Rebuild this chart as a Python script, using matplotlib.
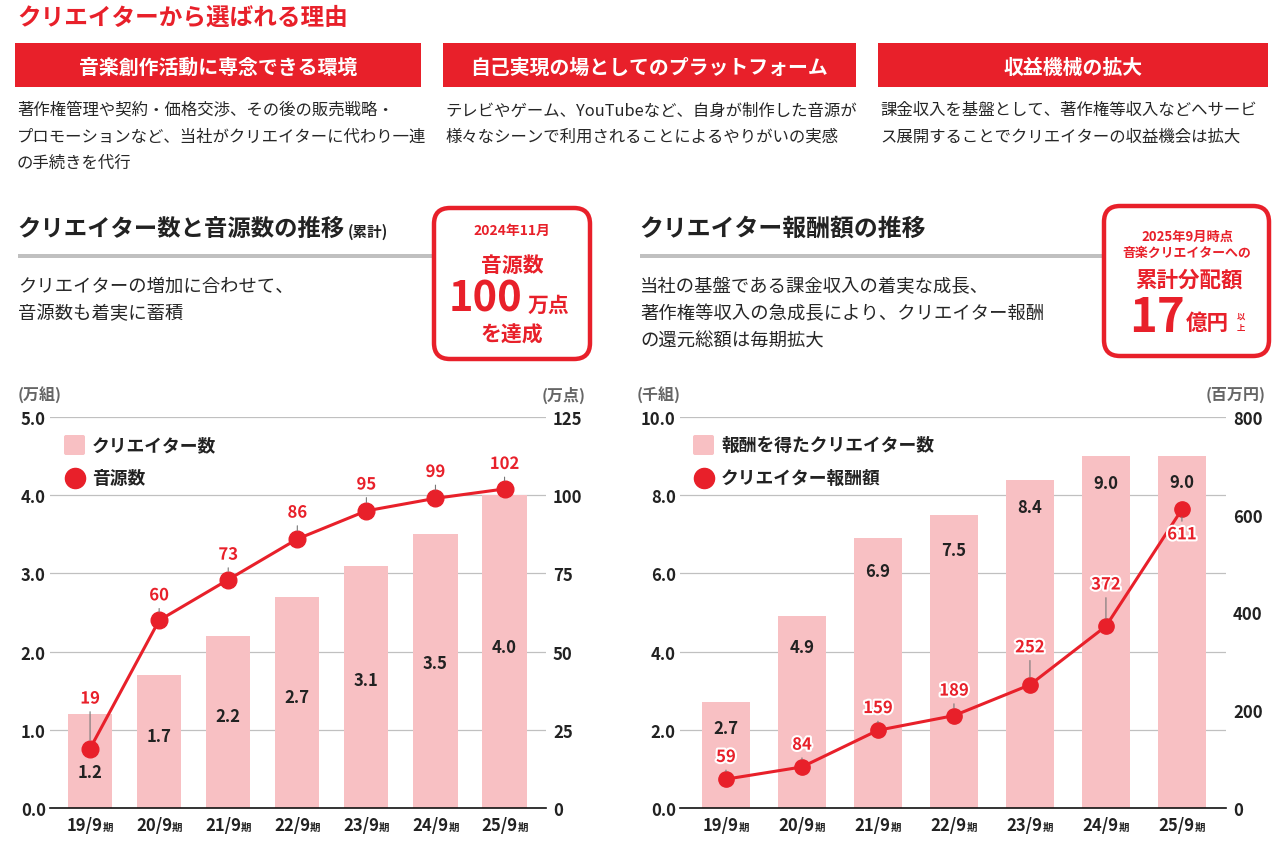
import matplotlib
matplotlib.use("Agg")
import matplotlib.pyplot as plt
import matplotlib.patheffects as pe
from matplotlib.patches import Rectangle, FancyBboxPatch
from matplotlib.offsetbox import TextArea, HPacker, AnnotationBbox

plt.rcParams['font.family'] = ['Noto Sans CJK JP', 'DejaVu Sans']

# ---------------- data ----------------
periods = ["19/9", "20/9", "21/9", "22/9", "23/9", "24/9", "25/9"]
period_suffix = "期"

creators_10k = [1.2, 1.7, 2.2, 2.7, 3.1, 3.5, 4.0]          # 万組
tracks_10k = [19, 60, 73, 86, 95, 99, 102]                   # 万点

paid_creators_1k = [2.7, 4.9, 6.9, 7.5, 8.4, 9.0, 9.0]       # 千組
payout_million = [59, 84, 159, 189, 252, 372, 611]           # 百万円

left_ticks = [0.0, 1.0, 2.0, 3.0, 4.0, 5.0]
left_ticks_r = [0, 25, 50, 75, 100, 125]
right_ticks = [0.0, 2.0, 4.0, 6.0, 8.0, 10.0]
right_ticks_r = [0, 200, 400, 600, 800]

reasons_head = ["音楽創作活動に専念できる環境", "自己実現の場としてのプラットフォーム", "収益機械の拡大"]
reasons_body = [
    ["著作権管理や契約・価格交渉、その後の販売戦略・",
     "プロモーションなど、当社がクリエイターに代わり一連",
     "の手続きを代行"],
    ["テレビやゲーム、YouTubeなど、自身が制作した音源が",
     "様々なシーンで利用されることによるやりがいの実感"],
    ["課金収入を基盤として、著作権等収入などへサービ",
     "ス展開することでクリエイターの収益機会は拡大"],
]

# ---------------- style ----------------
RED = "#E8202A"
PINK = "#F8C0C3"
DARK = "#222222"
TXT = "#262626"
GRID = "#C0C0C0"
UNIT = "#666666"

W, H = 1276, 845
fig = plt.figure(figsize=(W / 100, H / 100), dpi=100)
fig.patch.set_facecolor("white")

bg = fig.add_axes([0, 0, 1, 1], zorder=0)
bg.set_xlim(0, W)
bg.set_ylim(H, 0)
bg.axis("off")

# ---------------- header section ----------------
bg.text(17, 18, "クリエイターから選ばれる理由", color=RED, fontsize=17,
        fontweight="bold", va="center", ha="left")

boxes = [(15, 406), (443, 413), (878, 390)]
for (x0, w), head, body in zip(boxes, reasons_head, reasons_body):
    bg.add_patch(Rectangle((x0, 44), w, 44, facecolor=RED, edgecolor="none"))
    bg.text(x0 + w / 2, 67, head, color="white", fontsize=14.3, fontweight="bold",
            ha="center", va="center")
    for k, line in enumerate(body):
        bg.text(x0 + 2, 111 + 26 * k, line, color=TXT, fontsize=11.8,
                ha="left", va="center")

# ---------------- section titles ----------------
bg.text(17, 229, "クリエイター数と音源数の推移", color=DARK, fontsize=16.8,
        fontweight="bold", ha="left", va="center")
bg.text(348, 232, "(累計)", color=DARK, fontsize=10.5, fontweight="bold",
        ha="left", va="center")
bg.add_patch(Rectangle((18, 255), 416, 4, facecolor=GRID, edgecolor="none"))
bg.text(18, 287, "クリエイターの増加に合わせて、", color=TXT, fontsize=13.2, ha="left", va="center")
bg.text(18, 314, "音源数も着実に蓄積", color=TXT, fontsize=13.2, ha="left", va="center")

bg.text(639, 229, "クリエイター報酬額の推移", color=DARK, fontsize=17.2,
        fontweight="bold", ha="left", va="center")
bg.add_patch(Rectangle((640, 255), 464, 4, facecolor=GRID, edgecolor="none"))
for k, line in enumerate(["当社の基盤である課金収入の着実な成長、",
                          "著作権等収入の急成長により、クリエイター報酬",
                          "の還元総額は毎期拡大"]):
    bg.text(640, 287 + 27.5 * k, line, color=TXT, fontsize=13.2, ha="left", va="center")

# ---------------- callout boxes ----------------
bg.add_patch(FancyBboxPatch((434, 209), 156, 151,
                            boxstyle="round,pad=0,rounding_size=16",
                            facecolor="white", edgecolor=RED, linewidth=3.2, zorder=3))
bg.text(512, 231, "2024年11月", color=RED, fontsize=10, fontweight="bold",
        ha="center", va="center", zorder=4)
bg.text(512, 265, "音源数", color=RED, fontsize=15, fontweight="bold",
        ha="center", va="center", zorder=4)
bg.text(522, 300, "100", color=RED, fontsize=30, fontweight="bold",
        ha="right", va="center", zorder=4)
bg.text(528, 305, "万点", color=RED, fontsize=15, fontweight="bold",
        ha="left", va="center", zorder=4)
bg.text(512, 335, "を達成", color=RED, fontsize=15, fontweight="bold",
        ha="center", va="center", zorder=4)

bg.add_patch(FancyBboxPatch((1104, 207), 165, 150,
                            boxstyle="round,pad=0,rounding_size=16",
                            facecolor="white", edgecolor=RED, linewidth=3.2, zorder=3))
bg.text(1187, 237, "2025年9月時点", color=RED, fontsize=9.5, fontweight="bold",
        ha="center", va="center", zorder=4)
bg.text(1187, 253, "音楽クリエイターへの", color=RED, fontsize=9.3, fontweight="bold",
        ha="center", va="center", zorder=4)
bg.text(1189, 280, "累計分配額", color=RED, fontsize=15.5, fontweight="bold",
        ha="center", va="center", zorder=4)
bg.text(1185, 318, "17", color=RED, fontsize=34, fontweight="bold",
        ha="right", va="center", zorder=4)
bg.text(1186, 323, "億円", color=RED, fontsize=15.5, fontweight="bold",
        ha="left", va="center", zorder=4)
bg.text(1241, 317, "以", color=RED, fontsize=6, fontweight="bold",
        ha="center", va="center", zorder=4)
bg.text(1241, 329, "上", color=RED, fontsize=6, fontweight="bold",
        ha="center", va="center", zorder=4)

# ---------------- unit labels ----------------
bg.text(18, 395, "(万組)", color=UNIT, fontsize=11.5, fontweight="bold", ha="left", va="center")
bg.text(586, 395, "(万点)", color=UNIT, fontsize=11.5, fontweight="bold", ha="right", va="center")
bg.text(637, 395, "(千組)", color=UNIT, fontsize=11.5, fontweight="bold", ha="left", va="center")
bg.text(1266, 395, "(百万円)", color=UNIT, fontsize=11.5, fontweight="bold", ha="right", va="center")

# ---------------- legends ----------------
def legend(x, y, bar_label, line_label):
    bg.add_patch(FancyBboxPatch((x, y - 10), 21, 20, boxstyle="round,pad=0,rounding_size=2",
                                facecolor=PINK, edgecolor="none"))
    bg.text(x + 28, y, bar_label, color=DARK, fontsize=12.8, fontweight="bold",
            ha="left", va="center")
    bg.plot([x + 10.5], [y + 33], "o", color=RED, markersize=14.5)
    bg.text(x + 28, y + 33, line_label, color=DARK, fontsize=12.8, fontweight="bold",
            ha="left", va="center")

legend(64, 446, "クリエイター数", "音源数")
legend(693, 446, "報酬を得たクリエイター数", "クリエイター報酬額")

# ---------------- chart helper ----------------
def make_chart(rect, xlim, bars, ymax, lticks, lfmt, line, rmax, rticks,
               bar_label_pos, line_offsets, marker_size):
    ax = fig.add_axes([rect[0] / W, 1 - rect[3] / H, (rect[2] - rect[0]) / W,
                       (rect[3] - rect[1]) / H], zorder=2)
    ax.patch.set_alpha(0)
    x = list(range(len(periods)))
    ax.set_xlim(*xlim)
    ax.set_ylim(0, ymax)
    for t in lticks[1:]:
        ax.axhline(t, color=GRID, lw=0.9, zorder=0)
    ax.bar(x, bars, width=0.64, color=PINK, zorder=1)
    for s in ["top", "right", "left"]:
        ax.spines[s].set_visible(False)
    ax.spines["bottom"].set_color("#111111")
    ax.spines["bottom"].set_linewidth(1.2)
    ax.spines["bottom"].set_zorder(5)
    ax.set_yticks(lticks)
    ax.set_yticklabels([lfmt.format(t) for t in lticks])
    ax.tick_params(axis="y", length=0, pad=3, labelsize=12, colors=DARK)
    for lab in ax.get_yticklabels():
        lab.set_fontweight("bold")
    ax.set_xticks([])
    for i, (b, pos) in enumerate(zip(bars, bar_label_pos)):
        ax.text(i, pos, f"{b:.1f}", ha="center", va="center", fontsize=12,
                fontweight="bold", color=DARK, zorder=3)
    for i, p in enumerate(periods):
        ta1 = TextArea(p, textprops=dict(fontsize=12, fontweight="bold", color=DARK))
        ta2 = TextArea(period_suffix, textprops=dict(fontsize=7.5, fontweight="bold", color=DARK))
        box = HPacker(children=[ta1, ta2], align="baseline", pad=0, sep=0)
        ab = AnnotationBbox(box, (i, 0), xycoords=("data", "axes fraction"),
                            xybox=(0, -6), boxcoords="offset points",
                            box_alignment=(0.5, 1), frameon=False, pad=0)
        ax.add_artist(ab)

    ax2 = ax.twinx()
    ax2.set_zorder(3)
    ax2.patch.set_alpha(0)
    ax2.set_ylim(0, rmax)
    ax2.set_yticks(rticks)
    ax2.set_yticklabels([str(t) for t in rticks])
    ax2.tick_params(axis="y", length=0, pad=5, labelsize=12, colors=DARK)
    for lab in ax2.get_yticklabels():
        lab.set_fontweight("bold")
    for s in ["top", "right", "left", "bottom"]:
        ax2.spines[s].set_visible(False)
    ax2.plot(x, line, color=RED, lw=2.2, marker="o", markersize=marker_size, zorder=4)
    for i, (v, off) in enumerate(zip(line, line_offsets)):
        ax2.annotate(str(v), xy=(i, v), xytext=(0, off), textcoords="offset points",
                     ha="center", va="center", fontsize=12, fontweight="bold", color=RED,
                     path_effects=[pe.withStroke(linewidth=3, foreground="white")],
                     arrowprops=dict(arrowstyle="-", color="#777777", lw=0.8,
                                     shrinkA=1, shrinkB=marker_size / 2),
                     zorder=5)
    return ax, ax2

make_chart((50, 418, 546, 809), (-0.58, 6.6), creators_10k, 5.0, left_ticks, "{:.1f}",
           tracks_10k, 125, left_ticks_r,
           [0.46, 0.92, 1.18, 1.42, 1.64, 1.85, 2.06],
           [36, 18, 18, 19, 19, 19, 18], 12)

make_chart((680, 418, 1226, 809), (-0.605, 6.58), paid_creators_1k, 10.0, right_ticks, "{:.1f}",
           payout_million, 800, right_ticks_r,
           [2.05, 4.13, 6.05, 6.6, 7.7, 8.3, 8.35],
           [16, 16, 16, 18, 27, 30, -18], 11)

fig.savefig("out.png", dpi=100, facecolor="white")
